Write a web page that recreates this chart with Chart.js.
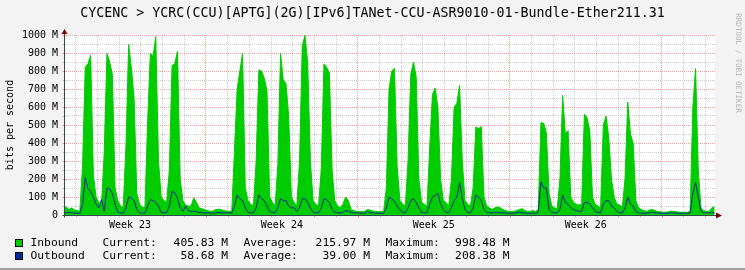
<!DOCTYPE html>
<html>
<head>
<meta charset="utf-8">
<title>CYCENC &gt; YCRC(CCU) traffic</title>
<script src="https://cdn.jsdelivr.net/npm/chart.js@4/dist/chart.umd.min.js"></script>
<style>
  html, body { margin: 0; padding: 0; background: #f3f3f3; }
  canvas { display: block; }
</style>
</head>
<body>
<canvas id="chartTraffic" width="745" height="270"></canvas>
<script>
/**
 * RRDtool-style monthly traffic graph redrawn with Chart.js.
 * Values are 3-hour averages in Mbit/s.
 */

// ----- Data -----
const TITLE = "CYCENC > YCRC(CCU)[APTG](2G)[IPv6]TANet-CCU-ASR9010-01-Bundle-Ether211.31";

// hours counted from the start of Week 23; first sample covers 09:00-12:00 of that day
const START_HOUR = 9;
const STEP_HOURS = 3;
const X_MIN = 11;
const X_MAX = 731;

// one row per day, 8 samples of 3 h (first and last day are partial)
const inbound = [
  35, 45, 30, 40, 28,
  25, 20, 270, 820, 840, 887, 220, 100,
  70, 55, 350, 898, 850, 780, 150, 80,
  50, 40, 380, 948, 820, 650, 120, 60,
  45, 40, 520, 900, 880, 991, 300, 100,
  80, 70, 250, 830, 840, 909, 200, 80,
  55, 50, 50, 95, 70, 40, 35, 30,
  25, 20, 22, 30, 32, 30, 25, 22,
  20, 20, 350, 700, 800, 898, 150, 80,
  60, 50, 300, 805, 800, 760, 690, 100,
  70, 50, 280, 898, 750, 730, 550, 100,
  70, 50, 300, 940, 998, 850, 300, 80,
  60, 50, 250, 840, 820, 790, 250, 80,
  50, 40, 60, 100, 80, 30, 25, 20,
  20, 18, 20, 30, 28, 22, 20, 18,
  20, 20, 150, 700, 800, 815, 270, 80,
  60, 50, 300, 780, 850, 770, 200, 70,
  60, 50, 380, 670, 705, 600, 200, 80,
  70, 50, 200, 600, 620, 720, 300, 80,
  60, 50, 150, 490, 480, 490, 100, 50,
  40, 30, 40, 45, 40, 30, 25, 20,
  20, 20, 25, 30, 35, 25, 20, 20,
  25, 20, 30, 513, 510, 457, 120, 50,
  40, 35, 200, 665, 450, 470, 100, 70,
  60, 55, 60, 560, 540, 470, 100, 60,
  50, 40, 500, 550, 430, 200, 100, 60,
  55, 45, 200, 627, 450, 400, 80, 40,
  30, 25, 20, 28, 30, 25, 20, 18,
  15, 15, 18, 22, 20, 18, 15, 15,
  15, 15, 20, 600, 813, 250, 40, 25,
  20, 20, 40, 45,
];

const outbound = [
  12, 12, 15, 12, 10,
  10, 10, 60, 208, 145, 130, 100, 60,
  40, 85, 20, 150, 145, 120, 60, 15,
  12, 10, 40, 100, 95, 80, 30, 12,
  10, 10, 50, 85, 80, 70, 50, 15,
  12, 12, 50, 130, 125, 90, 40, 20,
  50, 25, 20, 20, 18, 15, 12, 12,
  12, 12, 10, 12, 14, 12, 12, 12,
  12, 12, 50, 110, 90, 80, 40, 15,
  12, 12, 40, 110, 90, 80, 50, 20,
  15, 12, 40, 90, 80, 80, 50, 40,
  40, 20, 40, 90, 90, 70, 40, 15,
  12, 12, 40, 90, 85, 70, 30, 15,
  12, 12, 15, 25, 20, 15, 12, 12,
  12, 10, 10, 20, 12, 12, 10, 10,
  10, 10, 40, 100, 90, 75, 50, 30,
  15, 12, 40, 80, 90, 70, 40, 15,
  12, 12, 60, 100, 110, 120, 60, 30,
  15, 12, 40, 80, 100, 180, 90, 30,
  15, 12, 40, 110, 100, 80, 30, 15,
  12, 12, 15, 12, 12, 12, 12, 10,
  10, 10, 12, 15, 12, 12, 10, 10,
  10, 10, 15, 184, 150, 150, 30, 15,
  12, 12, 30, 110, 70, 60, 40, 30,
  25, 20, 20, 70, 70, 60, 40, 20,
  15, 12, 60, 80, 80, 50, 40, 20,
  12, 12, 40, 100, 60, 50, 20, 12,
  10, 10, 10, 12, 15, 12, 10, 10,
  10, 10, 10, 12, 12, 10, 10, 10,
  10, 10, 12, 120, 180, 100, 20, 12,
  12, 12, 12, 12,
];

const WEEK_LABELS = ["Week 23", "Week 24", "Week 25", "Week 26"];
const WEEK_CENTERS = [84, 252, 420, 588];
const Y_LABELS = ["0", "100 M", "200 M", "300 M", "400 M", "500 M", "600 M", "700 M", "800 M", "900 M", "1000 M"];

const SERIES_NAMES = ["Inbound", "Outbound"];
const CURRENT = ["405.83 M", "58.68 M"];
const AVERAGE = ["215.97 M", "39.00 M"];
const MAXIMUM = ["998.48 M", "208.38 M"];

// ----- Styling -----
const MONO = "'DejaVu Sans Mono', monospace";
const GREEN = "#00cc00";
const BLUE = "#002a97";
const BACK = "#f3f3f3";
const GRID = "rgba(143, 143, 143, 0.45)";
const MGRID = "rgba(235, 60, 60, 0.5)";
const AXIS = "#2c4d43";
const ARROW = "#7f0000";

// each sample is plotted at the middle of its 3-hour slot
function toPoints(values) {
  return values.map((v, i) => ({ x: START_HOUR + (i + 0.5) * STEP_HOURS, y: v }));
}

// background, title, axes, arrows, legend and watermark in rrdtool fashion
const rrdFrame = {
  id: "rrdFrame",
  beforeDraw(chart) {
    const ctx = chart.ctx;
    const a = chart.chartArea;
    ctx.save();
    ctx.fillStyle = BACK;
    ctx.fillRect(0, 0, chart.width, chart.height);
    ctx.fillStyle = "#ffffff";
    ctx.fillRect(a.left, a.top, a.right - a.left, a.bottom - a.top);
    ctx.fillStyle = "#9e9e9e";
    ctx.fillRect(0, chart.height - 2, chart.width, 2);

    ctx.fillStyle = "#000000";
    ctx.font = "13.3px " + MONO;
    ctx.textAlign = "center";
    ctx.textBaseline = "middle";
    ctx.fillText(TITLE, chart.width / 2, 14);
    ctx.restore();
  },
  afterDraw(chart) {
    const ctx = chart.ctx;
    const xs = chart.scales.x;
    const ys = chart.scales.y;
    const ax = Math.round(xs.getPixelForValue(X_MIN)) + 0.5;
    const ay = Math.round(ys.getPixelForValue(0)) + 0.5;
    const top = Math.round(ys.getPixelForValue(1000));
    const right = Math.round(xs.getPixelForValue(X_MAX));

    ctx.save();
    ctx.lineWidth = 1;

    // tick marks
    xs.ticks.forEach((t) => {
      if (t.value % 24 !== 0) return;
      const px = Math.round(xs.getPixelForValue(t.value)) + 0.5;
      ctx.strokeStyle = t.value % 168 === 0 ? MGRID : GRID;
      ctx.beginPath();
      ctx.moveTo(px, ay - 2);
      ctx.lineTo(px, ay + 2);
      ctx.stroke();
    });
    ys.ticks.forEach((t) => {
      const py = Math.round(ys.getPixelForValue(t.value)) + 0.5;
      ctx.strokeStyle = t.value % 100 === 0 ? MGRID : GRID;
      ctx.beginPath();
      ctx.moveTo(ax - 2, py);
      ctx.lineTo(ax + 2, py);
      ctx.stroke();
    });

    // axes
    ctx.strokeStyle = AXIS;
    ctx.beginPath();
    ctx.moveTo(ax, ay + 2);
    ctx.lineTo(ax, top - 1);
    ctx.moveTo(ax - 2, ay);
    ctx.lineTo(right + 2, ay);
    ctx.stroke();

    // arrows
    ctx.fillStyle = ARROW;
    ctx.beginPath();
    ctx.moveTo(ax - 3, top - 1);
    ctx.lineTo(ax + 3, top - 1);
    ctx.lineTo(ax, top - 6);
    ctx.closePath();
    ctx.fill();
    ctx.beginPath();
    ctx.moveTo(right + 1, ay - 3);
    ctx.lineTo(right + 1, ay + 3);
    ctx.lineTo(right + 7, ay);
    ctx.closePath();
    ctx.fill();

    // legend
    const rows = [243, 256];
    const colors = [GREEN, BLUE];
    ctx.font = "11.3px " + MONO;
    ctx.textBaseline = "middle";
    rows.forEach((y, i) => {
      ctx.fillStyle = "#000000";
      ctx.fillRect(15, y - 4, 8, 8);
      ctx.fillStyle = colors[i];
      ctx.fillRect(16, y - 3, 6, 6);
      ctx.fillStyle = "#000000";
      ctx.textAlign = "left";
      ctx.fillText(SERIES_NAMES[i], 30.5, y);
      ctx.fillText("Current:", 102.5, y);
      ctx.fillText("Average:", 243.5, y);
      ctx.fillText("Maximum:", 385.5, y);
      ctx.textAlign = "right";
      ctx.fillText(CURRENT[i], 228, y);
      ctx.fillText(AVERAGE[i], 370, y);
      ctx.fillText(MAXIMUM[i], 509.5, y);
    });

    // watermark
    ctx.translate(737.5, 63);
    ctx.rotate(Math.PI / 2);
    ctx.font = "7.5px " + MONO;
    ctx.fillStyle = "#b4b4b4";
    ctx.textAlign = "center";
    ctx.textBaseline = "middle";
    ctx.fillText("RRDTOOL / TOBI OETIKER", 0, 0);
    ctx.restore();
  },
};

function initChart() {
  const ctx = document.getElementById("chartTraffic").getContext("2d");
  return new Chart(ctx, {
    type: "line",
    data: {
      datasets: [
        {
          label: "Outbound",
          data: toPoints(outbound),
          borderColor: BLUE,
          borderWidth: 1,
          pointRadius: 0,
          tension: 0,
          fill: false,
          order: 0,
        },
        {
          label: "Inbound",
          data: toPoints(inbound),
          borderColor: GREEN,
          backgroundColor: GREEN,
          borderWidth: 1,
          pointRadius: 0,
          tension: 0,
          fill: "origin",
          order: 1,
        },
      ],
    },
    options: {
      responsive: false,
      animation: false,
      devicePixelRatio: 1,
      layout: { padding: { left: 0, right: 30, top: 35, bottom: 0 } },
      plugins: {
        legend: { display: false },
        tooltip: { enabled: false },
        title: { display: false },
      },
      scales: {
        x: {
          type: "linear",
          min: X_MIN,
          max: X_MAX,
          afterBuildTicks: (scale) => {
            const ticks = [];
            for (let h = 12; h <= X_MAX; h += 12) ticks.push({ value: h });
            scale.ticks = ticks;
          },
          afterFit: (scale) => { scale.height = 55; },
          ticks: {
            autoSkip: false,
            maxRotation: 0,
            minRotation: 0,
            padding: 4,
            color: "#000000",
            font: { family: MONO, size: 10 },
            callback: (v) => {
              const i = WEEK_CENTERS.indexOf(v);
              return i >= 0 ? WEEK_LABELS[i] : "";
            },
          },
          grid: {
            drawTicks: false,
            lineWidth: 1,
            color: (c) => {
              const v = c.tick ? c.tick.value : 0;
              if (v % 168 === 0) return MGRID;
              if (v % 24 === 0) return GRID;
              return "rgba(0,0,0,0)";
            },
          },
          border: { display: false, dash: [1, 1] },
        },
        y: {
          min: 0,
          max: 1000,
          afterFit: (scale) => { scale.width = 64; },
          ticks: {
            stepSize: 50,
            autoSkip: false,
            padding: 6,
            color: "#000000",
            font: { family: MONO, size: 10 },
            callback: (v) => (v % 100 === 0 ? Y_LABELS[v / 100] : ""),
          },
          grid: {
            drawTicks: false,
            lineWidth: 1,
            color: (c) => {
              const v = c.tick ? c.tick.value : 0;
              if (v === 0) return "rgba(0,0,0,0)";
              return v % 100 === 0 ? MGRID : GRID;
            },
          },
          border: { display: false, dash: [1, 1] },
          title: {
            display: true,
            text: "bits per second",
            color: "#000000",
            font: { family: MONO, size: 10 },
            padding: { top: 4, bottom: 0 },
          },
        },
      },
    },
    plugins: [rrdFrame],
  });
}

initChart();
</script>
</body>
</html>
